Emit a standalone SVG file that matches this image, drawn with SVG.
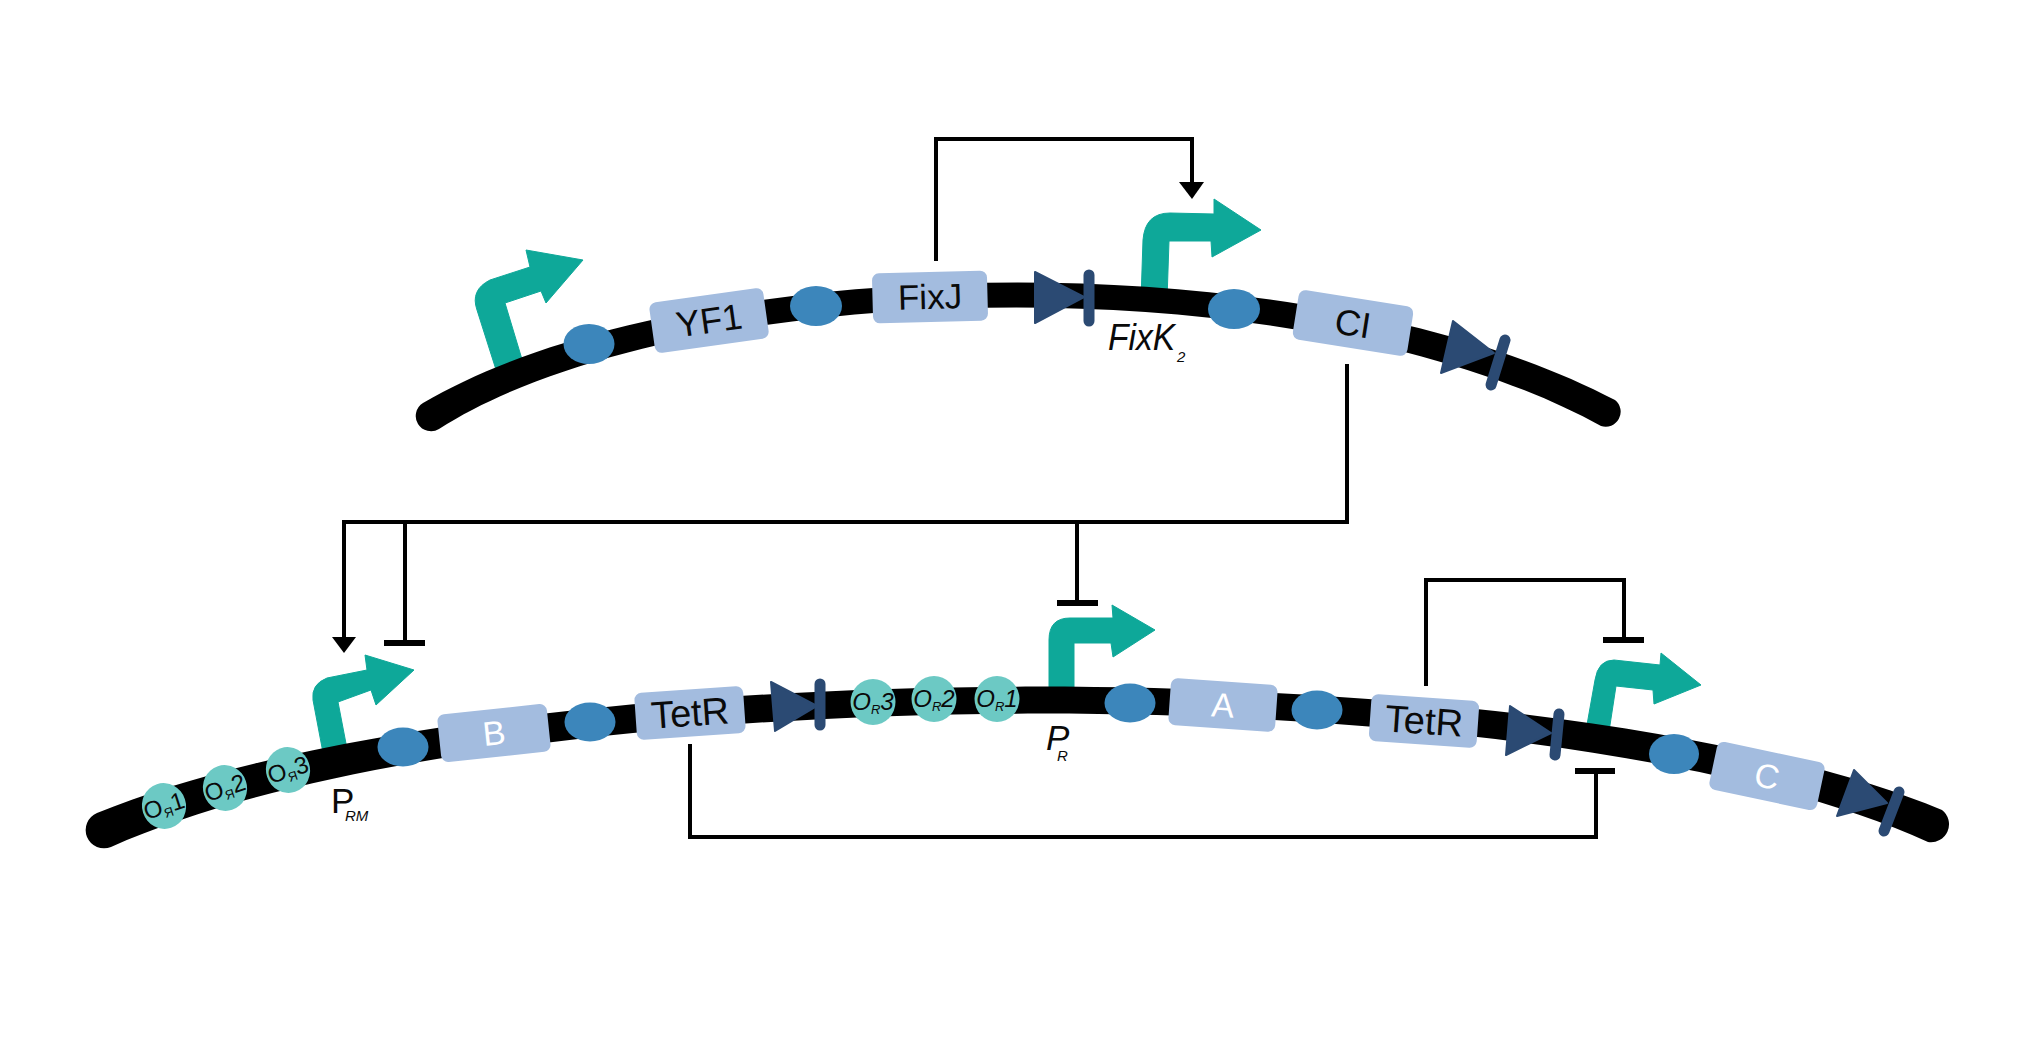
<svg xmlns="http://www.w3.org/2000/svg" width="2028" height="1057" viewBox="0 0 2028 1057">
<style>
text{font-family:"Liberation Sans",Arial,sans-serif;fill:#0a0a0a;text-anchor:middle}
.it{font-style:italic}
.strand{fill:#000}
.prom{fill:#0ea899;stroke:#0ea899;stroke-width:1;stroke-linejoin:round}
.rbs{fill:#3c86bb}
.cds{fill:#a3bcdf}
.cds-t{font-size:34px}
.w{fill:#fff}
.term{fill:#2b4a73;stroke:#2b4a73;stroke-width:2;stroke-linejoin:round}
.bar{stroke:#2b4a73;stroke-width:11;stroke-linecap:round;fill:none}
.op{fill:#6cc9c4}
.op-t{font-size:24px}
.sub{font-size:13px}
.conn{fill:none;stroke:#000;stroke-width:4}
.tbar{fill:none;stroke:#000;stroke-width:6}
.head{fill:#000}
.free{text-anchor:start}
</style>
<g id="promoter-1"><path class="prom" d="M498 376L477 310Q470 290 490 280L530 267L526 250L583 260L546 303L541 291L505 303L524 366Z"/></g>
<g id="promoter-fixk2"><path class="prom" d="M1141 300L1143 240Q1145 213 1170 213L1214 214L1214 199L1261 230L1212 257L1211 241L1169 241L1167 300Z"/></g>
<g id="promoter-prm"><path class="prom" d="M324 758L313 700Q311 684 327 678L367 670L365 655L414 670L376 705L371 690L338 702L348 754Z"/></g>
<g id="promoter-pr"><path class="prom" d="M1049 699L1049 640Q1049 618 1070 618L1113 618L1112 605L1155 630L1113 657L1111 643L1074 643L1074 699Z"/></g>
<g id="promoter-right"><path class="prom" d="M1585 736L1595 680Q1598 660 1614 660L1660 665L1661 653L1701 685L1654 704L1653 690L1616 686L1608 738Z"/></g>

<g id="strands">
<path class="strand" d="M423 403C680 251 1300 235 1615 400A15 15 0 0 1 1601 426C1300 260 680 275 439 429A15 15 0 0 1 423 403Z"/>
<path class="strand" d="M97 813C500 648 1540 642 1942 810A18 18 0 0 1 1928 842C1540 666 500 674 111 847A18 18 0 0 1 97 813Z"/>
</g>

<g id="rbs-1"><ellipse class="rbs" cx="589" cy="344" rx="25.5" ry="20"/></g>
<g id="rbs-2"><ellipse class="rbs" cx="816" cy="306" rx="26" ry="20"/></g>
<g id="rbs-3"><ellipse class="rbs" cx="1234" cy="309" rx="26" ry="20"/></g>
<g id="rbs-4"><ellipse class="rbs" cx="403" cy="747" rx="25.5" ry="19.5"/></g>
<g id="rbs-5"><ellipse class="rbs" cx="590" cy="722" rx="25.5" ry="19.5"/></g>
<g id="rbs-6"><ellipse class="rbs" cx="1130" cy="703" rx="25.5" ry="19.5"/></g>
<g id="rbs-7"><ellipse class="rbs" cx="1317" cy="710" rx="25.5" ry="19.5"/></g>
<g id="rbs-8"><ellipse class="rbs" cx="1674" cy="754" rx="25" ry="20"/></g>

<g id="cds-yf1" transform="translate(709 320) rotate(-8)"><rect class="cds" x="-57.5" y="-25" width="115" height="51" rx="7"/><text class="cds-t" y="13" style="font-size:36px">YF1</text></g>
<g id="cds-fixj" transform="translate(930 297) rotate(-1.5)"><rect class="cds" x="-57.5" y="-25" width="115" height="50" rx="7"/><text class="cds-t" y="12" style="font-size:35px">FixJ</text></g>
<g id="cds-ci" transform="translate(1353 323) rotate(9)"><rect class="cds" x="-58" y="-25" width="116" height="50" rx="7"/><text class="cds-t" y="13" style="font-size:36px">CI</text></g>
<g id="cds-b" transform="translate(494 733) rotate(-6)"><rect class="cds" x="-55" y="-24" width="110" height="48" rx="7"/><text class="cds-t w" y="12">B</text></g>
<g id="cds-tetr-1" transform="translate(690 713) rotate(-4)"><rect class="cds" x="-54.5" y="-23.5" width="109" height="47" rx="7"/><text class="cds-t" y="13" style="font-size:38px">TetR</text></g>
<g id="cds-a" transform="translate(1223 705) rotate(4)"><rect class="cds" x="-53.5" y="-23.5" width="107" height="47" rx="7"/><text class="cds-t w" y="12">A</text></g>
<g id="cds-tetr-2" transform="translate(1424 721) rotate(4)"><rect class="cds" x="-54" y="-23.5" width="108" height="47" rx="7"/><text class="cds-t" y="13" style="font-size:38px">TetR</text></g>
<g id="cds-c" transform="translate(1767 776) rotate(12)"><rect class="cds" x="-55" y="-24.5" width="110" height="49" rx="7"/><text class="cds-t w" y="12">C</text></g>

<g id="terminator-1"><polygon class="term" points="1035,272 1084,297 1035,323"/><path class="bar" d="M1089 275V321"/></g>
<g id="terminator-2"><polygon class="term" points="1453,321 1494,353 1441,373"/><path class="bar" d="M1505 340L1491 385"/></g>
<g id="terminator-3"><polygon class="term" points="771,682 817,706 775,731"/><path class="bar" d="M820 684V725"/></g>
<g id="terminator-4"><polygon class="term" points="1510,706 1551,733 1506,755"/><path class="bar" d="M1559 714L1555 755"/></g>
<g id="terminator-5"><polygon class="term" points="1854,770 1887,803 1837,816"/><path class="bar" d="M1899 792L1884 831"/></g>

<g id="op-l1" transform="translate(164 806) rotate(-18)"><ellipse class="op" rx="22" ry="23"/><text class="op-t" y="8">O<tspan class="sub" dy="4">Я</tspan><tspan dy="-4">1</tspan></text></g>
<g id="op-l2" transform="translate(225 788) rotate(-18)"><ellipse class="op" rx="22" ry="23"/><text class="op-t" y="8">O<tspan class="sub" dy="4">Я</tspan><tspan dy="-4">2</tspan></text></g>
<g id="op-l3" transform="translate(288 770) rotate(-18)"><ellipse class="op" rx="22" ry="23"/><text class="op-t" y="8">O<tspan class="sub" dy="4">Я</tspan><tspan dy="-4">3</tspan></text></g>
<g id="op-r3" transform="translate(873 702)"><ellipse class="op" rx="22.5" ry="23"/><text class="op-t it" y="8">O<tspan class="sub" dy="4">R</tspan><tspan dy="-4">3</tspan></text></g>
<g id="op-r2" transform="translate(934 699)"><ellipse class="op" rx="22.5" ry="23"/><text class="op-t it" y="8">O<tspan class="sub" dy="4">R</tspan><tspan dy="-4">2</tspan></text></g>
<g id="op-r1" transform="translate(997 699)"><ellipse class="op" rx="22.5" ry="23"/><text class="op-t it" y="8">O<tspan class="sub" dy="4">R</tspan><tspan dy="-4">1</tspan></text></g>

<g id="label-fixk2"><text class="free it" x="1108" y="350" font-size="36" textLength="67" lengthAdjust="spacingAndGlyphs">FixK</text><text class="free it" x="1177" y="362" font-size="15">2</text></g>
<g id="label-prm"><text class="free" x="331" y="813" font-size="35">P</text><text class="free it" x="345" y="821" font-size="15">RM</text></g>
<g id="label-pr"><text class="free it" x="1046" y="750" font-size="35">P</text><text class="free it" x="1057" y="761" font-size="15">R</text></g>

<g id="connectors">
<path class="conn" d="M936 261V139H1192V184"/><polygon class="head" points="1179,182 1204,182 1192,199"/>
<path class="conn" d="M1347 364V522H344V639"/><polygon class="head" points="332,637 356,637 344,653"/>
<path class="conn" d="M405 522V643"/><path class="tbar" d="M384 643H425"/>
<path class="conn" d="M1077 522V603"/><path class="tbar" d="M1057 603H1098"/>
<path class="conn" d="M1426 686V580H1624V640"/><path class="tbar" d="M1603 640H1644"/>
<path class="conn" d="M690 744V837H1596V771"/><path class="tbar" d="M1575 771H1615"/>
</g>
</svg>
